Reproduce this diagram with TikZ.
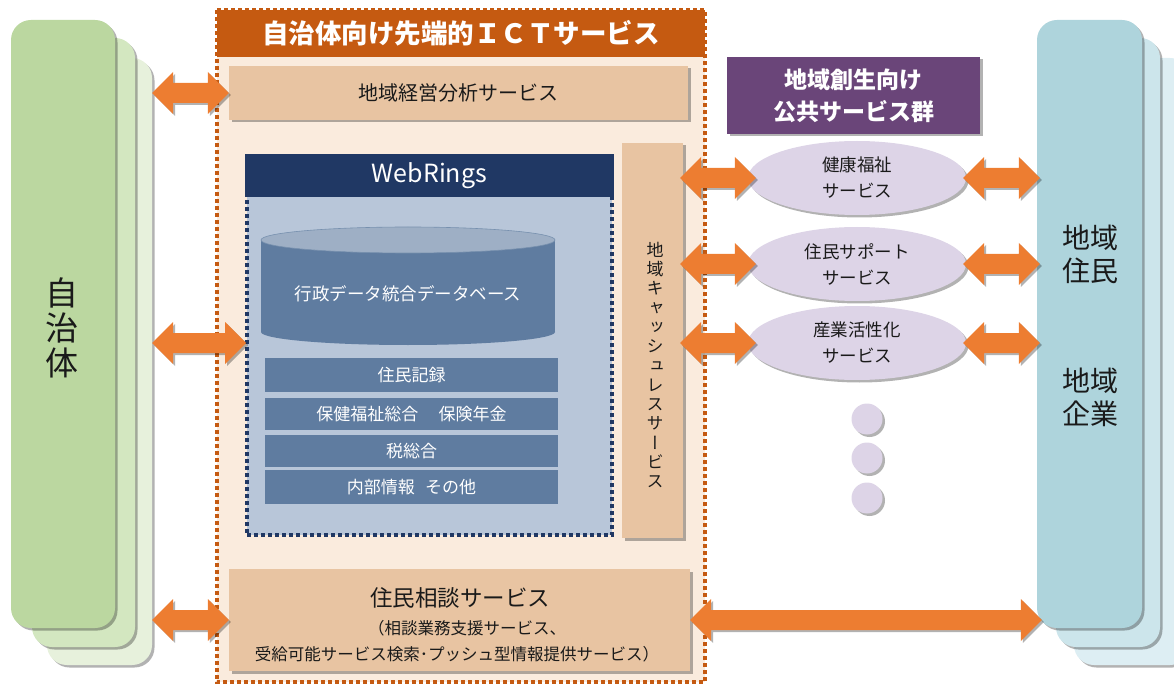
\documentclass[tikz,border=0pt]{standalone}
\usepackage{fontspec}
\setmainfont{Noto Sans CJK JP}
\newfontfamily\vjp[RawFeature=+vert]{Noto Sans CJK JP}
\usetikzlibrary{shadows,calc,shapes.geometric}
\definecolor{arr}{HTML}{ED7D31}
\definecolor{ictor}{HTML}{C55A11}
\definecolor{ictbg}{HTML}{FAEBDD}
\definecolor{tanbg}{HTML}{E8C4A2}
\definecolor{navy}{HTML}{203864}
\definecolor{webbg}{HTML}{B8C6D9}
\definecolor{barbl}{HTML}{5F7CA0}
\definecolor{cyltop}{HTML}{9EAFC5}
\definecolor{purp}{HTML}{6A4579}
\definecolor{lav}{HTML}{DDD4E7}
\definecolor{gA}{HTML}{BBD7A0}
\definecolor{gB}{HTML}{D3E7C0}
\definecolor{gC}{HTML}{E7F1DC}
\definecolor{bA}{HTML}{AED4DC}
\definecolor{bB}{HTML}{CCE5EB}
\definecolor{bC}{HTML}{DDEEF3}
\definecolor{txt}{HTML}{1A1A1A}
\tikzset{
  sh/.style={drop shadow={shadow xshift=2.5pt,shadow yshift=-2.5pt,opacity=0.3,fill=black}},
  card/.style={rectangle,rounded corners=20pt,sh,inner sep=0pt},
  tanbox/.style={rectangle,fill=tanbg,sh,inner sep=0pt,text=txt},
  bar/.style={rectangle,fill=barbl,minimum width=293,inner sep=0pt,text=white,font=\fontsize{17}{20}\selectfont},
  svc/.style={ellipse,fill=lav,sh,minimum width=218,minimum height=74,inner sep=0pt,align=center,text=txt,font=\fontsize{17.5}{26}\selectfont},
  dotc/.style={circle,fill=lav,sh,minimum size=31,inner sep=0pt},
  fatarr/.style={fill=arr,drop shadow={shadow xshift=2pt,shadow yshift=-2pt,opacity=0.3,fill=black}},
  bigtxt/.style={text=txt,align=center},
  dotborder/.style={line width=4pt,dash pattern=on 4pt off 3pt},
}
\newcommand\fatarrow[2]{\path[fatarr] let \p1=(#1), \p2=(#2) in (\x1,\y1) -- ++(21pt,21pt) -- ++(0pt,-11pt) -- (\x2-21pt,\y1+10pt) -- ++(0pt,11pt) -- (\x2,\y1) -- ++(-21pt,-21pt) -- ++(0pt,11pt) -- (\x1+21pt,\y1-10pt) -- ++(0pt,-11pt) -- cycle;}
\begin{document}
\begin{tikzpicture}[x=1pt,y=-1pt]
\useasboundingbox (0,0) rectangle (1174,684);
% left cards
\node[card,fill=gC,minimum width=105,minimum height=607] (jback) at (99.5,361.5) {};
\node[card,fill=gB,minimum width=103,minimum height=609] (jmid) at (83.5,342.5) {};
\node[card,fill=gA,minimum width=104,minimum height=608] (jfront) at (63,324) {};
\node[bigtxt,font=\fontsize{33}{35}\selectfont] (jlabel) at (62,328) {自\\治\\体};
% right cards
\node[card,fill=bC,minimum width=116,minimum height=607] (rback) at (1132,361.5) {};
\node[card,fill=bB,minimum width=104,minimum height=609] (rmid) at (1108,342.5) {};
\node[card,fill=bA,minimum width=105,minimum height=608] (rfront) at (1089.5,324) {};
\node[bigtxt,font=\fontsize{28}{33}\selectfont] (rl1) at (1090,254) {地域\\住民};
\node[bigtxt,font=\fontsize{28}{33}\selectfont] (rl2) at (1090,397) {地域\\企業};
% ICT container
\node[fill=ictbg,minimum width=488,minimum height=672,inner sep=0pt] (ict) at (461,346) {};
\node[fill=ictor,minimum width=488,minimum height=47,inner sep=0pt,text=white,font=\fontsize{26.5}{30}\selectfont\bfseries] (icthead) at (461,33.5) {自治体向け先端的ＩＣＴサービス};
\draw[ictor,dotborder] (ict.north west) rectangle (ict.south east);
\node[tanbox,minimum width=459,minimum height=54,font=\fontsize{20}{24}\selectfont] (keiei) at (458.5,93) {地域経営分析サービス};
% WebRings
\node[fill=webbg,draw=navy,dotborder,minimum width=365,minimum height=373,inner sep=0pt] (webbody) at (429.5,348.5) {};
\node[fill=navy,minimum width=369,minimum height=43,inner sep=0pt,text=white,font=\fontsize{25}{28}\selectfont] (webhead) at (429.5,175.5) {WebRings};
\fill[barbl] (261,240) rectangle (555,332);
\fill[barbl] (408,332) ellipse [x radius=147,y radius=13];
\fill[cyltop,draw=barbl!85!white,line width=0.6pt] (408,240) ellipse [x radius=147,y radius=13];
\node[text=white,font=\fontsize{17.5}{20}\selectfont] (dbtext) at (408,294) {行政データ統合データベース};
\node[bar,minimum height=34] (bar1) at (411.5,375) {住民記録};
\node[bar,minimum height=32] (bar2) at (411.5,414) {保健福祉総合\hspace{1.2em}保険年金};
\node[bar,minimum height=32] (bar3) at (411.5,451) {税総合};
\node[bar,minimum height=34] (bar4) at (411.5,487) {内部情報\hspace{0.6em}その他};
% cashless
\node[tanbox,minimum width=61,minimum height=395] (cash) at (652.5,340.5) {};
\node[bigtxt,font=\fontsize{17}{19.3}\selectfont\vjp] (cashtext) at (655,365) {地\\域\\キ\\ャ\\ッ\\シ\\ュ\\レ\\ス\\サ\\ー\\ビ\\ス};
% public services
\node[fill=purp,sh,minimum width=253,minimum height=77,inner sep=0pt,text=white,align=center,font=\fontsize{23}{32}\selectfont\bfseries] (purple) at (853.5,95.5) {地域創生向け\\公共サービス群};
\node[svc] (e1) at (857,178) {健康福祉\\サービス};
\node[svc] (e2) at (857,264) {住民サポート\\サービス};
\node[svc] (e3) at (857,343) {産業活性化\\サービス};
\node[dotc] (d1) at (867,419) {};
\node[dotc] (d2) at (867,458) {};
\node[dotc] (d3) at (867,498) {};
% soudan
\node[tanbox,minimum width=461,minimum height=102] (soudan) at (459.5,620) {};
\node[text=txt,font=\fontsize{22.5}{26}\selectfont] (s1) at (460,598) {住民相談サービス};
\node[text=txt,font=\fontsize{16.5}{20}\selectfont] (s2) at (467,628) {（相談業務支援サービス、};
\node[text=txt,font=\fontsize{16.5}{20}\selectfont] (s3) at (457,654) {受給可能サービス検索･プッシュ型情報提供サービス）};
% arrows
\coordinate (wl) at (246,343);
\fatarrow{jback.east |- keiei.west}{keiei.west}
\fatarrow{jback.east |- wl}{wl}
\fatarrow{jback.east |- soudan.west}{soudan.west}
\fatarrow{$(cash.east |- e1)+(-3,0)$}{$(e1.west)+(8,0)$}
\fatarrow{$(cash.east |- e2)+(-3,0)$}{$(e2.west)+(8,0)$}
\fatarrow{$(cash.east |- e3)+(-3,0)$}{$(e3.west)+(8,0)$}
\fatarrow{$(e1.east)+(-3,0)$}{$(rfront.west |- e1)+(3,0)$}
\fatarrow{$(e2.east)+(-3,0)$}{$(rfront.west |- e2)+(3,0)$}
\fatarrow{$(e3.east)+(-3,0)$}{$(rfront.west |- e3)+(3,0)$}
\fatarrow{soudan.east}{$(rfront.west |- soudan.east)+(5,0)$}
\end{tikzpicture}
\end{document}
